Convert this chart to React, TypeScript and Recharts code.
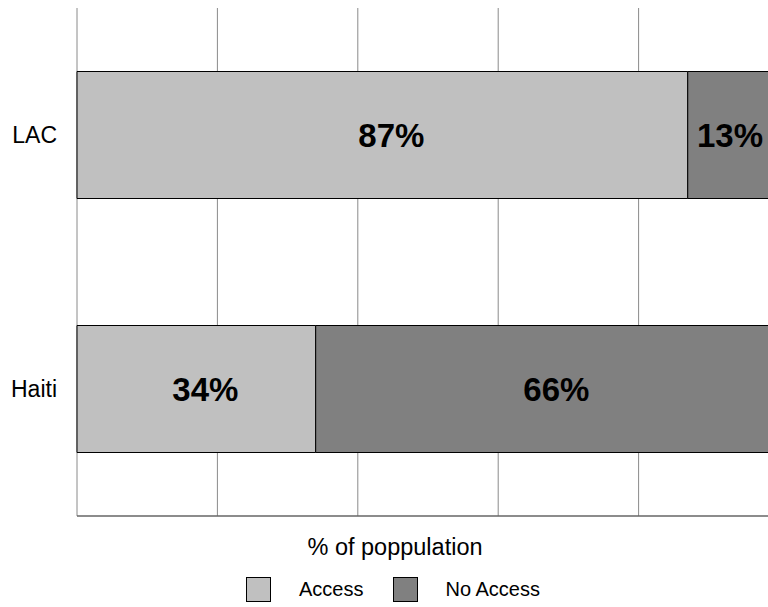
import React from 'react';
import { BarChart, Bar, XAxis, YAxis, CartesianGrid, Legend, LabelList } from 'recharts';

// values
const regions = ['LAC', 'Haiti'];
const accessPct = [87, 34];
const noAccessPct = [13, 66];
const xTicks = [0, 20, 40, 60, 80, 100];

const data = regions.map((region, i) => ({
  region,
  access: accessPct[i],
  noAccess: noAccessPct[i],
}));

const VIEW_W = 768;
const VIEW_H = 607;
const CHART_W = 786; // the plot runs a little past the right edge, as in the source
const FONT = 'Arial, "Liberation Sans", sans-serif';

const ACCESS_COLOR = '#c0c0c0';
const NO_ACCESS_COLOR = '#808080';

// bold % label centred in its segment, nudged right, kept inside the visible frame
const PctLabel = (props: any) => {
  const { x, y, width, height, value } = props;
  const cx = Math.min(x + width / 2 + 9, VIEW_W - 38);
  return (
    <text
      x={cx}
      y={y + height / 2}
      textAnchor="middle"
      dominantBaseline="central"
      fontSize={33}
      fontWeight="bold"
      fontFamily={FONT}
      fill="#000"
    >
      {`${value}%`}
    </text>
  );
};

const AxisTitle = (props: any) => {
  const { viewBox } = props;
  if (!viewBox) return null;
  return (
    <text
      x={CHART_W / 2 + 2}
      y={viewBox.y + viewBox.height - 1}
      textAnchor="middle"
      fontSize={23.5}
      fontFamily={FONT}
      fill="#000"
    >
      % of poppulation
    </text>
  );
};

const Swatch = ({ color }: { color: string }) => (
  <span
    style={{
      display: 'inline-block',
      width: 25,
      height: 25,
      boxSizing: 'border-box',
      border: '1px solid #000',
      background: color,
    }}
  />
);

const LegendBox = () => (
  <div
    style={{
      display: 'flex',
      justifyContent: 'center',
      alignItems: 'center',
      height: 47,
      paddingTop: 20,
      boxSizing: 'border-box',
      fontFamily: FONT,
      fontSize: 20,
      color: '#000',
    }}
  >
    <Swatch color={ACCESS_COLOR} />
    <span style={{ marginLeft: 28, marginRight: 30 }}>Access</span>
    <Swatch color={NO_ACCESS_COLOR} />
    <span style={{ marginLeft: 27 }}>No Access</span>
  </div>
);

// x ticks are not labelled in the reference, but they still drive the grid
const NoTick = () => <g />;

const App: React.FC = () => {
  return (
    <div
      style={{
        position: 'absolute',
        left: 0,
        top: 0,
        width: VIEW_W,
        height: VIEW_H,
        overflow: 'hidden',
        background: '#fff',
      }}
    >
      <BarChart
        width={CHART_W}
        height={VIEW_H}
        data={data}
        layout="vertical"
        margin={{ top: 8, right: 7, bottom: 4, left: 0 }}
        barCategoryGap="25%"
      >
        <CartesianGrid horizontal={false} stroke="#8a8a8a" />
        <XAxis
          type="number"
          domain={[0, 100]}
          ticks={xTicks}
          tick={<NoTick />}
          tickLine={false}
          axisLine={{ stroke: '#666', strokeWidth: 1.5 }}
          height={40}
          label={<AxisTitle />}
        />
        <YAxis
          type="category"
          dataKey="region"
          width={77}
          axisLine={false}
          tickLine={false}
          tickMargin={14}
          tick={{ fill: '#000', fontSize: 23, fontFamily: FONT }}
        />
        <Legend
          verticalAlign="bottom"
          height={47}
          wrapperStyle={{ left: 0, width: CHART_W }}
          content={() => <LegendBox />}
        />
        <Bar dataKey="access" name="Access" stackId="a" fill={ACCESS_COLOR} stroke="#000" strokeWidth={1} isAnimationActive={false}>
          <LabelList dataKey="access" content={<PctLabel />} />
        </Bar>
        <Bar dataKey="noAccess" name="No Access" stackId="a" fill={NO_ACCESS_COLOR} stroke="#000" strokeWidth={1} isAnimationActive={false}>
          <LabelList dataKey="noAccess" content={<PctLabel />} />
        </Bar>
      </BarChart>
    </div>
  );
};

export default App;
